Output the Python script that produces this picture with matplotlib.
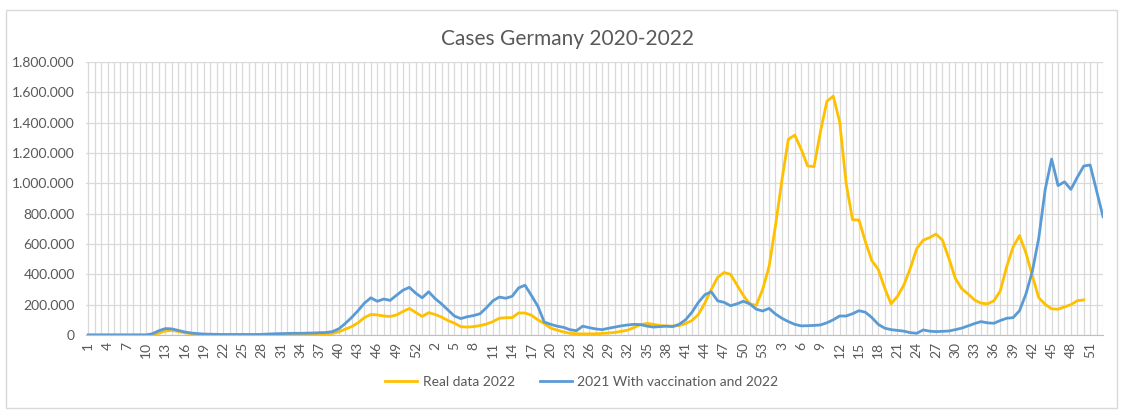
import numpy as np
import matplotlib.pyplot as plt
from matplotlib.ticker import FuncFormatter, MultipleLocator
from matplotlib.patches import Rectangle

plt.rcParams['font.family'] = ['Lato', 'DejaVu Sans']

# week numbers on the category axis (2020, 2021, 2022 - each drawn with 53 slots)
week_labels = list(range(1, 54)) + list(range(1, 54)) + list(range(1, 54))

# weekly cases in thousands
real_2022 = [
    0, 0, 0, 0, 0, 0, 0, 0, 0, 0, 2, 12, 26, 30, 23, 14, 9, 5, 3, 2,
    2, 2, 2, 2, 2, 2, 2, 2, 3, 3, 4, 4, 5, 5, 6, 6, 7, 8, 10, 20,
    38, 55, 80, 115, 135, 132, 125, 122, 132, 155, 175, 148, 122,
    147, 135, 118, 95, 78, 55, 52, 55, 62, 72, 88, 110, 114, 114, 145, 145, 130,
    100, 75, 45, 32, 20, 11, 8, 7, 7, 8, 10, 13, 17, 24, 32, 50, 68, 76, 70, 62,
    59, 59, 62, 75, 95, 135, 210, 300, 380, 412, 400, 330, 260, 205, 195, 300,
    450, 720, 1020, 1290, 1318, 1225, 1115, 1110, 1340, 1540, 1575, 1405, 1000, 760,
    758, 615, 490, 433, 310, 205, 255, 330, 440, 570, 625, 642, 665, 625, 505, 374,
    305, 270, 230, 210, 205, 225, 290, 450, 580, 655, 540, 390, 245, 202, 172, 170,
    185, 200, 226, 231, np.nan, np.nan, np.nan,
]
vacc_2021_2022 = [
    0, 0, 0, 0, 0, 0, 0, 0, 0, 0, 8, 28, 42, 40, 30, 20, 13, 9, 6, 5,
    4, 3, 3, 3, 3, 3, 3, 4, 6, 8, 9, 10, 11, 11, 12, 13, 15, 16, 22, 40,
    75, 115, 160, 210, 245, 222, 237, 228, 262, 295, 314, 275, 245,
    285, 240, 205, 165, 125, 108, 120, 128, 140, 180, 225, 250, 242, 255, 310, 328, 260,
    190, 85, 70, 58, 50, 35, 28, 58, 48, 40, 35, 44, 52, 60, 66, 70, 68, 58, 52, 55,
    58, 55, 70, 100, 150, 215, 265, 285, 225, 215, 193, 205, 222, 205, 170, 158,
    175, 138, 110, 88, 70, 60, 61, 63, 66, 80, 100, 125, 125, 140, 160, 150, 115, 70,
    45, 35, 30, 25, 15, 11, 33, 25, 22, 24, 26, 35, 45, 60, 75, 88, 80, 77, 95, 110,
    114, 160, 270, 420, 640, 960, 1160, 985, 1010, 960, 1040, 1114, 1121, 950, 780,
]

x = np.arange(len(week_labels))
real = np.array(real_2022, dtype=float) * 1000
vacc = np.array(vacc_2021_2022, dtype=float) * 1000

fig = plt.figure(figsize=(11.23, 4.12), dpi=100)
ax = fig.add_axes([0.0766, 0.187, 0.9056, 0.6625])

ax.plot(x, real, color='#FFC000', lw=2.0, label='Real data 2022')
ax.plot(x, vacc, color='#5B9BD5', lw=2.0, label='2021 With vaccination and 2022')

ax.set_xlim(-0.35, 158)
ax.set_ylim(0, 1800000)
ax.yaxis.set_major_locator(MultipleLocator(200000))
ax.yaxis.set_major_formatter(FuncFormatter(lambda v, p: '{:,}'.format(int(v)).replace(',', '.')))

ax.set_xticks(x)
ax.set_xticklabels([str(w) if i % 3 == 0 else '' for i, w in enumerate(week_labels)],
                   rotation=90)
ax.tick_params(axis='both', length=0, labelsize=10, colors='#595959')
ax.tick_params(axis='x', pad=5)
ax.tick_params(axis='y', pad=8)

ax.grid(True, color='#D9D9D9', lw=0.9)
ax.set_axisbelow(True)
for s in ['top', 'right', 'left']:
    ax.spines[s].set_visible(False)
ax.spines['bottom'].set_color('#BFBFBF')

fig.text(0.505, 0.905, 'Cases Germany 2020-2022', ha='center', va='center',
         fontsize=15, color='#595959')

fig.legend(loc='center', bbox_to_anchor=(0.518, 0.073), ncol=2, frameon=False,
           fontsize=10, handlelength=2.3, handletextpad=0.4, columnspacing=1.8,
           labelcolor='#595959')

fig.patches.append(Rectangle((0.005, 0.01), 0.99, 0.965, transform=fig.transFigure,
                             fill=False, edgecolor='#D9D9D9', lw=1))

fig.savefig('out.png', dpi=100)
